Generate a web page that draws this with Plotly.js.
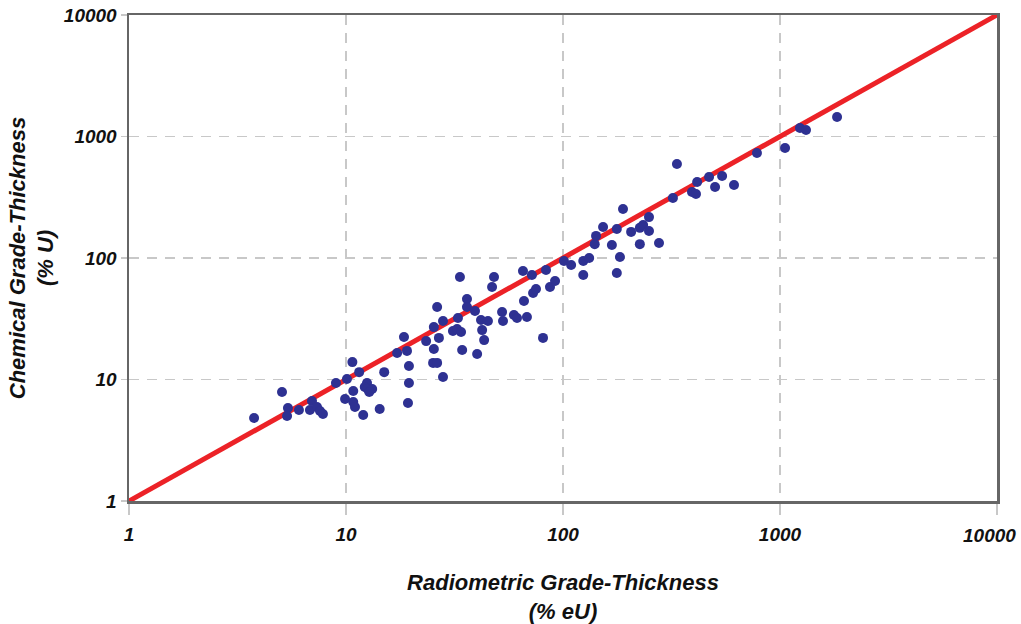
<!DOCTYPE html>
<html>
<head>
<meta charset="utf-8">
<script src="https://cdn.plot.ly/plotly-3.0.1.min.js"></script>
<style>html,body{margin:0;padding:0;background:#fff;}#chart{width:1021px;height:624px;}</style>
</head>
<body>
<div id="chart"></div>
<script>
// Radiometric grade-thickness (% eU)
const radiometric = [
  3.77, 5.07, 5.40, 5.35, 6.07, 6.97, 6.82, 7.35, 7.59, 7.83,
  8.99, 10.1, 10.7, 11.5, 10.8, 9.9, 10.8, 11.0, 12.0, 12.5,
  12.2, 12.6, 13.2, 12.8, 14.3, 15.0, 17.2, 19.1, 19.5, 19.5,
  19.3, 18.5, 23.4, 25.4, 28.0, 26.8, 25.4, 25.2, 26.3, 28.0,
  26.3, 33.5, 36.1, 36.1, 32.8, 31.1, 32.5, 33.9, 34.3, 39.3,
  40.2, 41.9, 42.4, 43.3, 45.1, 47.1, 48.1, 52.4, 52.9, 59.4,
  61.4, 68.2, 66.1, 65.4, 71.9, 72.8, 75.1, 80.9, 83.5, 87.1,
  91.9, 101, 109, 124, 132, 124, 140, 142, 153, 168,
  177, 177, 183, 189, 206, 226, 234, 226, 249, 249,
  277, 321, 335, 393, 410, 415, 471, 502, 541, 614,
  783, 1055, 1236, 1318, 1832
];
// Chemical grade-thickness (% U)
const chemical = [
  4.82, 7.89, 5.83, 5.01, 5.61, 6.65, 5.61, 5.94, 5.50, 5.20,
  9.36, 10.1, 13.9, 11.5, 8.04, 6.91, 6.53, 5.94, 5.10, 9.36,
  8.68, 8.35, 8.35, 7.89, 5.72, 11.5, 16.5, 17.2, 12.9, 9.36,
  6.41, 22.4, 20.7, 27.0, 30.3, 22.0, 17.8, 13.7, 13.7, 10.5,
  39.5, 69.8, 46.0, 39.5, 32.1, 25.1, 26.0, 24.6, 17.5, 36.6,
  16.2, 30.9, 25.5, 21.1, 30.3, 57.7, 69.8, 35.9, 30.3, 33.9,
  32.1, 32.7, 44.3, 78.2, 72.4, 51.5, 55.6, 22.0, 79.7, 57.7,
  64.7, 94.5, 87.6, 94.5, 100, 72.4, 130, 152, 180, 128,
  173, 75.3, 102, 253, 164, 177, 187, 130, 167, 217,
  133, 312, 594, 349, 336, 422, 464, 384, 473, 399,
  731, 804, 1175, 1131, 1446
];
// 1:1 reference line
const oneToOneX = [1, 10000];
const oneToOneY = [1, 10000];
// Axis ticks
const tickValues = [1, 10, 100, 1000, 10000];
const tickLabels = ["1", "10", "100", "1000", "10000"];

const FONT = "Liberation Sans, Arial, Helvetica, sans-serif";
const tickFont = {family: FONT, size: 19, color: "#111", weight: "bold", style: "italic"};
const titleFont = {family: FONT, size: 22, color: "#111", weight: "bold", style: "italic"};

// the last x label sits inside the right edge, so it is drawn as an annotation
const xTickText = tickLabels.map((t, i) => i === tickLabels.length - 1 ? "" : t);
const lastIdx = tickLabels.length - 1;

const traces = [
  {
    type: "scatter", mode: "lines",
    x: oneToOneX, y: oneToOneY,
    line: {color: "#ec2227", width: 5},
    hoverinfo: "skip", showlegend: false
  },
  {
    type: "scatter", mode: "markers",
    x: radiometric, y: chemical,
    marker: {color: "#2e3192", size: 10, line: {width: 0}},
    showlegend: false
  }
];

const axisCommon = {
  type: "log",
  range: [0, 4],
  tickmode: "array",
  tickvals: tickValues,
  tickfont: tickFont,
  ticklabeloverflow: "allow",
  showgrid: true,
  gridcolor: "#c8c8c8",
  gridwidth: 1.5,
  griddash: "10px,8px",
  showline: true,
  linecolor: "#666666",
  linewidth: 2.5,
  mirror: true,
  ticks: "outside",
  tickcolor: "#c8c8c8",
  tickwidth: 1.5,
  zeroline: false,
  fixedrange: true
};

const layout = {
  width: 1021, height: 624,
  margin: {l: 129, r: 24, t: 15, b: 123},
  paper_bgcolor: "#ffffff",
  plot_bgcolor: "#ffffff",
  showlegend: false,
  hovermode: false,
  xaxis: Object.assign({}, axisCommon, {
    ticktext: xTickText,
    ticklen: 11,
    ticklabelstandoff: 4,
    title: {text: "Radiometric Grade-Thickness<br>(% eU)", font: titleFont, standoff: 38}
  }),
  yaxis: Object.assign({}, axisCommon, {
    ticktext: tickLabels,
    ticklen: 6,
    title: {text: "Chemical Grade-Thickness<br>(% U)", font: titleFont, standoff: 4}
  }),
  annotations: [{
    text: tickLabels[lastIdx],
    xref: "x", x: Math.log10(tickValues[lastIdx]),
    yref: "paper", y: 0,
    xanchor: "center", yanchor: "middle",
    xshift: -8, yshift: -34,
    showarrow: false,
    font: tickFont
  }]
};

Plotly.newPlot("chart", traces, layout, {displayModeBar: false, staticPlot: true});
</script>
</body>
</html>
